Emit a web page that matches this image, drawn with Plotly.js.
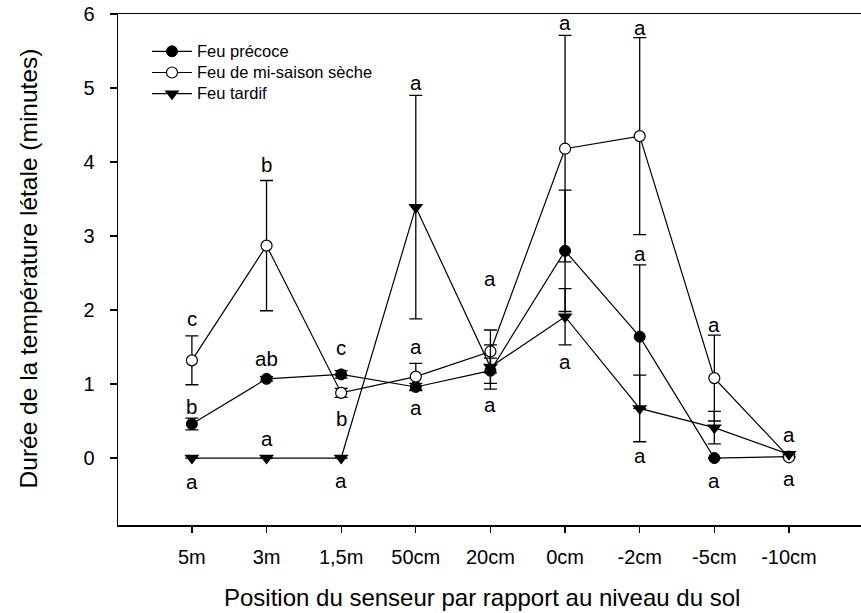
<!DOCTYPE html>
<html>
<head>
<meta charset="utf-8">
<script src="https://cdn.plot.ly/plotly-3.0.1.min.js"></script>
<style>html,body{margin:0;padding:0;background:#fff;}#chart{width:861px;height:613px;}</style>
</head>
<body>
<div id="chart"></div>
<script>
// Categories (sensor positions)
var categories = ['5m', '3m', '1,5m', '50cm', '20cm', '0cm', '-2cm', '-5cm', '-10cm'];

// Series names
var seriesNames = ['Feu précoce', 'Feu de mi-saison sèche', 'Feu tardif'];

// Feu précoce
var precoce    = [0.46, 1.07, 1.13, 0.96, 1.18, 2.80, 1.64, 0.00, 0.02];
var precoceErr = [0.08, 0.03, 0.05, 0.05, 0.17, 0.82, 0.97, 0.00, 0.00];

// Feu de mi-saison sèche
var miSaison    = [1.32, 2.87, 0.88, 1.10, 1.44, 4.18, 4.35, 1.08, 0.01];
var miSaisonErr = [0.33, 0.88, 0.06, 0.18, 0.29, 1.53, 1.33, 0.58, 0.00];

// Feu tardif
var tardif    = [0.00, 0.00, 0.00, 3.39, 1.23, 1.91, 0.67, 0.41, 0.05];
var tardifErr = [0.00, 0.00, 0.00, 1.51, 0.30, 0.38, 0.45, 0.22, 0.00];

// Significance letters
var letterCat  = [0, 0, 0, 1, 1, 1, 2, 2, 2, 3, 3, 3, 4, 4, 5, 5, 6, 6, 6, 7, 7, 8, 8];
var letterText = ['c', 'b', 'a', 'b', 'ab', 'a', 'c', 'b', 'a', 'a', 'a', 'a', 'a', 'a', 'a', 'a', 'a', 'a', 'a', 'a', 'a', 'a', 'a'];
var letterY    = [1.89, 0.70, -0.32, 3.96, 1.35, 0.27, 1.49, 0.54, -0.30, 5.08, 1.51, 0.68, 2.43, 0.72, 5.89, 1.30, 5.82, 2.77, 0.04, 1.81, -0.30, 0.32, -0.28];

var yTicks = [0, 1, 2, 3, 4, 5, 6];

var xTitle = 'Position du senseur par rapport au niveau du sol';
var yTitle = 'Durée de la température létale (minutes)';

var xIdx = categories.map(function (c, i) { return i; });
var FONT = 'Liberation Sans, Arial, sans-serif';

function errObj(arr) {
  return { type: 'data', array: arr, visible: true, color: '#000', thickness: 1.3, width: 6.5 };
}
function legName(s) {
  return '<span style="font-size:16.5px">' + s + '</span>';
}

var traces = [
  {
    x: xIdx, y: precoce, name: legName(seriesNames[0]), type: 'scatter', mode: 'lines+markers',
    line: { color: '#000', width: 1.2 },
    marker: { symbol: 'circle', size: 11, color: '#000', line: { color: '#000', width: 1 } },
    error_y: errObj(precoceErr)
  },
  {
    x: xIdx, y: miSaison, name: legName(seriesNames[1]), type: 'scatter', mode: 'lines+markers',
    line: { color: '#000', width: 1.2 },
    marker: { symbol: 'circle', size: 11, color: '#fff', line: { color: '#000', width: 1.2 } },
    error_y: errObj(miSaisonErr)
  },
  {
    x: xIdx, y: tardif, name: legName(seriesNames[2]), type: 'scatter', mode: 'lines+markers',
    line: { color: '#000', width: 1.2 },
    marker: { symbol: 'triangle-down', size: 13, color: '#000', line: { color: '#000', width: 0 } },
    error_y: errObj(tardifErr)
  }
];

var annotations = letterText.map(function (t, i) {
  return {
    x: letterCat[i], y: letterY[i], xref: 'x', yref: 'y', text: t,
    showarrow: false, xanchor: 'center', yanchor: 'middle',
    font: { family: FONT, size: 20.5, color: '#000' }
  };
});

annotations.push({
  x: 0.49, y: -0.141, xref: 'paper', yref: 'paper', text: xTitle,
  showarrow: false, xanchor: 'center', yanchor: 'middle',
  font: { family: FONT, size: 24, color: '#000' }
});
annotations.push({
  x: -0.1205, y: 0.503, xref: 'paper', yref: 'paper', text: yTitle, textangle: -90,
  showarrow: false, xanchor: 'center', yanchor: 'middle',
  font: { family: FONT, size: 24.5, color: '#000' }
});

var layout = {
  width: 861, height: 613,
  margin: { l: 118, r: 0, t: 14, b: 88, pad: 0 },
  paper_bgcolor: '#fff', plot_bgcolor: '#fff',
  font: { family: FONT, color: '#000' },
  showlegend: true,
  legend: {
    x: 0.039, y: 0.9575, xanchor: 'left', yanchor: 'top',
    bgcolor: 'rgba(0,0,0,0)', borderwidth: 0,
    font: { family: FONT, size: 14, color: '#000' },
    itemwidth: 40,
    tracegroupgap: 0
  },
  xaxis: {
    range: [-0.99, 8.965],
    tickmode: 'array', tickvals: xIdx, ticktext: categories,
    showgrid: false, zeroline: false,
    showline: true, linecolor: '#000', linewidth: 1.5, mirror: true,
    ticks: 'outside', ticklen: 6, tickwidth: 1.3, tickcolor: '#000',
    tickfont: { family: FONT, size: 20, color: '#000' },
    ticklabelstandoff: 7
  },
  yaxis: {
    range: [-0.905, 6],
    tickmode: 'array', tickvals: yTicks,
    showgrid: false, zeroline: false,
    showline: true, linecolor: '#000', linewidth: 1.5, mirror: false,
    ticks: 'outside', ticklen: 7, tickwidth: 1.3, tickcolor: '#000',
    tickfont: { family: FONT, size: 20, color: '#000' },
    ticklabelstandoff: 11
  },
  annotations: annotations
};

Plotly.newPlot('chart', traces, layout, { staticPlot: true, displayModeBar: false });
</script>
</body>
</html>
